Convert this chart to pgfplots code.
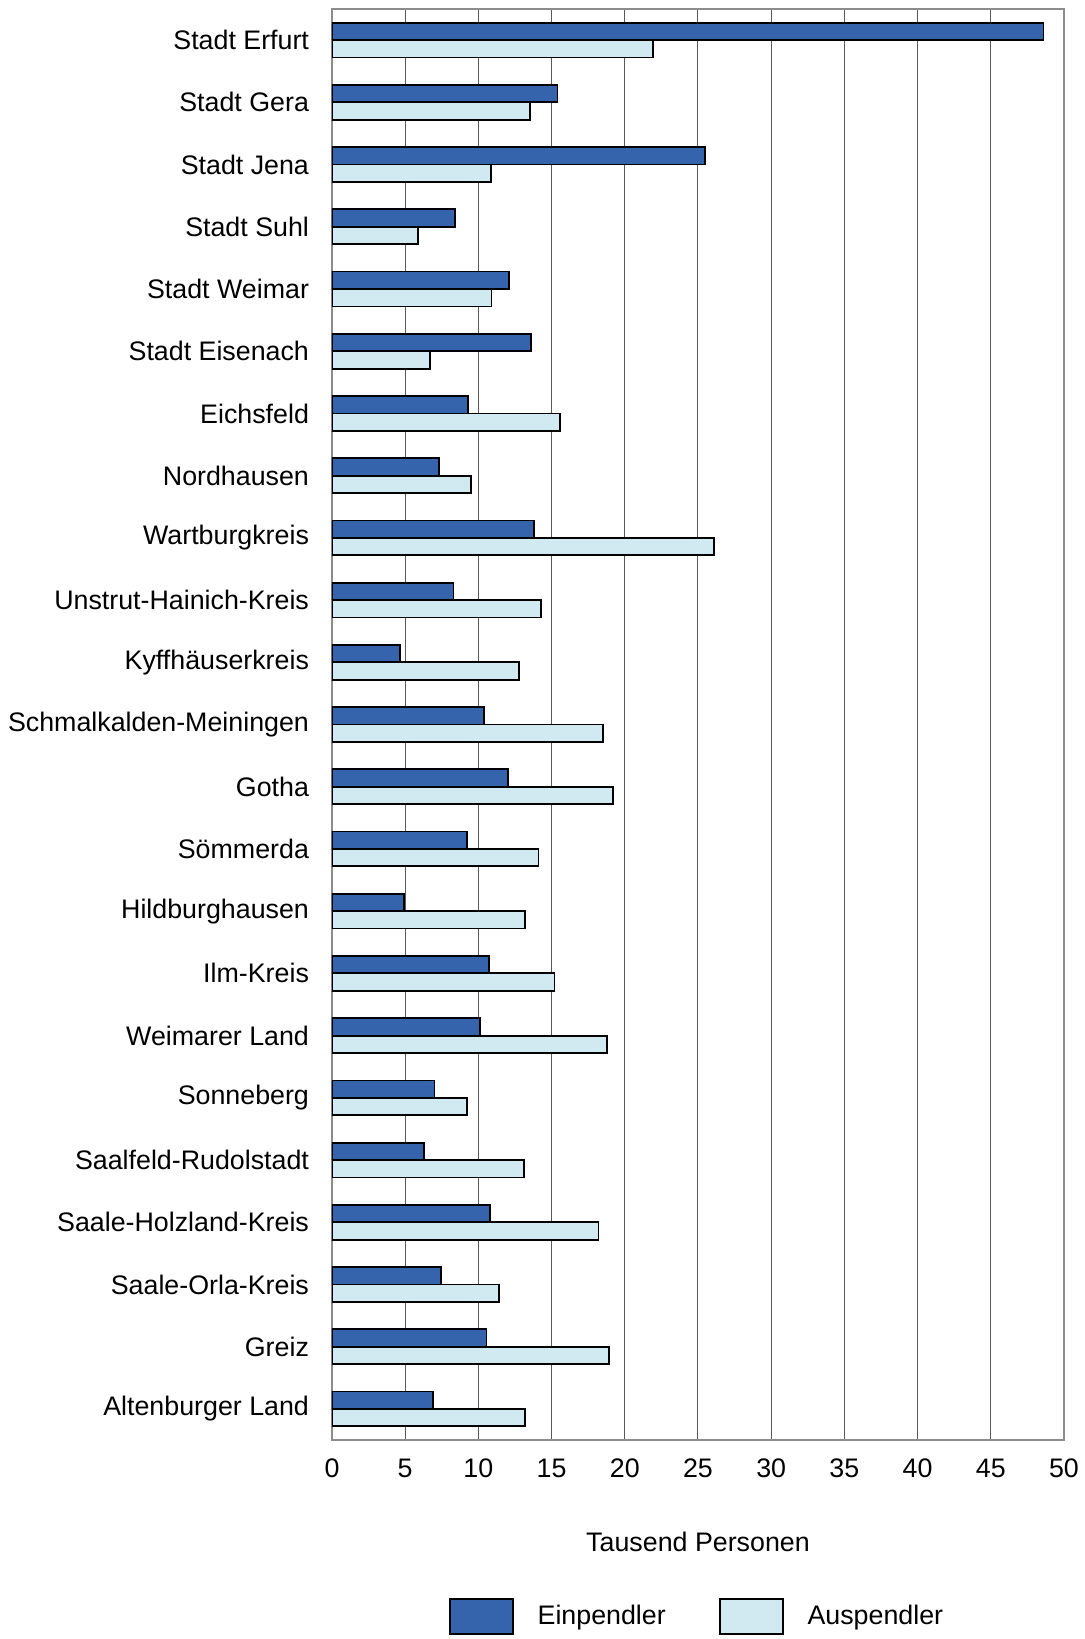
\documentclass[border=0pt]{standalone}
\usepackage{pgfplots}
\pgfplotsset{compat=1.18}
\usepackage{fontspec}
\setmainfont{Liberation Sans}
\definecolor{ein}{RGB}{53,99,172}
\definecolor{aus}{RGB}{209,233,240}
\newcommand{\myfs}{\fontsize{13.4}{16}\selectfont}
\begin{document}
\begin{tikzpicture}
\begin{axis}[
 at={(0,0)}, anchor=south west,
 scale only axis, width=366pt, height=715.5pt,
 xbar, bar width=0.28,
 xmin=0, xmax=50, ymin=-0.5, ymax=22.5, y dir=reverse,
 xtick={0,5,...,50},
 ytick={0,...,22},
 yticklabels={Stadt Erfurt, Stadt Gera, Stadt Jena, Stadt Suhl, Stadt Weimar, Stadt Eisenach, Eichsfeld, Nordhausen, Wartburgkreis, Unstrut-Hainich-Kreis, Kyffhäuserkreis, Schmalkalden-Meiningen, Gotha, Sömmerda, Hildburghausen, Ilm-Kreis, Weimarer Land, Sonneberg, Saalfeld-Rudolstadt, Saale-Holzland-Kreis, Saale-Orla-Kreis, Greiz, Altenburger Land},
 major tick length=0pt,
 xmajorgrids, grid style={black!65, line width=0.5pt},
 axis line style={black!45, line width=0.6pt},
 tick label style={font=\myfs},
 /pgf/number format/assume math mode=true,
 yticklabel style={xshift=-8pt},
 xticklabel style={yshift=-6pt},
 xlabel={Tausend Personen},
 xlabel style={font=\myfs, at={(axis description cs:0.5,-0.0713)}, anchor=center},
 legend columns=2,
 legend style={at={(0.5,-0.1235)}, anchor=center, draw=none, font=\myfs,
   /tikz/every odd column/.append style={column sep=10pt},
   /tikz/every even column/.append style={column sep=24.5pt}},
 legend image code/.code={\draw[#1, line width=0.9pt] (0pt,-8.75pt) rectangle (31.5pt,8.75pt);},
]
\addplot[fill=ein, draw=black, line width=0.9pt, bar shift=-0.14] coordinates {
(48.6,0) (15.4,1) (25.5,2) (8.4,3) (12.1,4) (13.6,5) (9.3,6) (7.3,7) (13.8,8) (8.3,9) (4.65,10) (10.4,11) (12.0,12) (9.2,13) (4.9,14) (10.7,15) (10.1,16) (7.0,17) (6.3,18) (10.8,19) (7.45,20) (10.55,21) (6.9,22)};
\addplot[fill=aus, draw=black, line width=0.9pt, bar shift=0.14] coordinates {
(21.9,0) (13.5,1) (10.85,2) (5.9,3) (10.9,4) (6.7,5) (15.6,6) (9.5,7) (26.1,8) (14.3,9) (12.8,10) (18.5,11) (19.2,12) (14.1,13) (13.2,14) (15.2,15) (18.8,16) (9.2,17) (13.1,18) (18.2,19) (11.4,20) (18.9,21) (13.2,22)};
\legend{Einpendler, Auspendler}
\end{axis}
\pgfresetboundingbox
\path[use as bounding box] (-166pt,-99.5pt) rectangle (376pt,720pt);
\end{tikzpicture}
\end{document}
